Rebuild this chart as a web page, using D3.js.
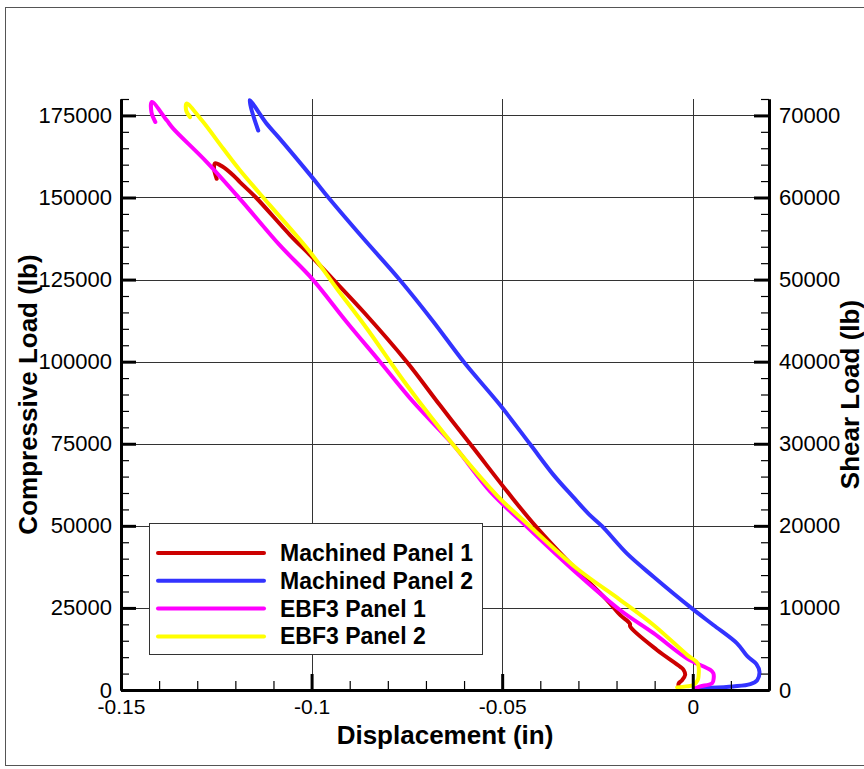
<!DOCTYPE html>
<html>
<head>
<meta charset="utf-8">
<script src="https://cdn.jsdelivr.net/npm/d3@7"></script>
<style>
body { margin: 0; background: #fff; }
svg { font-family: "Liberation Sans", Arial, Helvetica, sans-serif; }
</style>
</head>
<body>
<div id="chart"></div>
<script>
// data: [displacement (in), compressive load (lb)]
var machined1 = [[-0.0037,800],[-0.0037,2000],[-0.0028,3000],[-0.0020,4600],[-0.0024,6100],[-0.0033,7100],
  [-0.0094,12200],[-0.0164,19300],[-0.0165,20200],[-0.0190,22800],[-0.0225,27400],[-0.0322,38600],[-0.0413,50000],
  [-0.0479,59300],[-0.0575,73600],[-0.0663,86700],[-0.0750,99900],[-0.0864,115200],[-0.0943,125000],
  [-0.1000,132000],[-0.1056,138500],[-0.1146,150000],[-0.1188,154700],[-0.1205,156700],[-0.1235,159500],
  [-0.1253,160400],[-0.1256,158900],[-0.1249,155700]];
var machined2 = [[0.0007,600],[0.0046,700],[0.0106,1100],[0.0151,1800],[0.0169,3000],[0.0175,5500],[0.0167,7900],
  [0.0143,10300],[0.0116,14200],[0.0054,19800],[-0.0004,25000],[-0.0103,34500],[-0.0173,41600],[-0.0238,49900],
  [-0.0272,53500],[-0.0314,58800],[-0.0366,65600],[-0.0427,74900],[-0.0505,86700],[-0.0600,99800],
  [-0.0680,112100],[-0.0770,125100],[-0.0864,137500],[-0.0956,150000],[-0.0999,156200],[-0.1087,168400],
  [-0.1118,172500],[-0.1163,179600],[-0.1140,170400]];
var ebf1 = [[0.0007,600],[0.0020,1100],[0.0051,2100],[0.0055,3700],[0.0054,5100],[0.0046,6100],[-0.0015,9600],
  [-0.0103,17300],[-0.0190,24300],[-0.0313,36500],[-0.0435,49700],[-0.0531,60400],[-0.0628,74600],[-0.0733,87700],
  [-0.0820,99900],[-0.0908,112100],[-0.0999,125300],[-0.1083,135400],[-0.1188,149600],[-0.1275,160800],
  [-0.1363,171000],[-0.1380,173500],[-0.1419,179100],[-0.1420,175900],[-0.1410,173000]];
var ebf2 = [[-0.0041,800],[-0.0017,1100],[0.0002,1500],[0.0013,3000],[0.0015,4000],[0.0013,8100],[-0.0015,10700],
  [-0.0103,19800],[-0.0190,27400],[-0.0304,37000],[-0.0435,50700],[-0.0514,59300],[-0.0628,74600],[-0.0750,92800],
  [-0.0855,110100],[-0.0934,122300],[-0.1004,133400],[-0.1109,147600],[-0.1188,158300],[-0.1232,164900],
  [-0.1288,173500],[-0.1328,178600],[-0.1329,176500],[-0.1319,174500]];

var seriesNames = ["Machined Panel 1", "Machined Panel 2", "EBF3 Panel 1", "EBF3 Panel 2"];
var seriesColors = ["#cc0000", "#3333ff", "#ff00ff", "#ffff00"];
var seriesData = [machined1, machined2, ebf1, ebf2];

var xTicks = [-0.15, -0.1, -0.05, 0];
var leftTicks = [0, 25000, 50000, 75000, 100000, 125000, 150000, 175000];
var rightTicks = [0, 10000, 20000, 30000, 40000, 50000, 60000, 70000];

var W = 864, H = 769;
var plot = {left: 121, right: 769, top: 99, bottom: 690};

var svg = d3.select("#chart").append("svg")
  .attr("width", W)
  .attr("height", H);

// outer frame
svg.append("rect")
  .attr("x", 5.5).attr("y", 7.5)
  .attr("width", 900).attr("height", 758)
  .attr("fill", "none").attr("stroke", "#555").attr("stroke-width", 1);

var x = d3.scaleLinear().domain([-0.15, 0.02]).range([plot.left, plot.right]);
var yL = d3.scaleLinear().domain([0, 180000]).range([plot.bottom, plot.top]);
var yR = d3.scaleLinear().domain([0, 72000]).range([plot.bottom, plot.top]);

// grid
var grid = svg.append("g").attr("stroke", "#333").attr("stroke-width", 1);
grid.selectAll(".hg").data(leftTicks.filter(function(d){ return d > 0; })).enter()
  .append("line")
  .attr("x1", plot.left).attr("x2", plot.right)
  .attr("y1", function(d){ return Math.round(yL(d)) + 0.5; })
  .attr("y2", function(d){ return Math.round(yL(d)) + 0.5; });
grid.selectAll(".vg").data(xTicks.filter(function(d){ return d > -0.15; })).enter()
  .append("line")
  .attr("y1", plot.top).attr("y2", plot.bottom)
  .attr("x1", function(d){ return Math.round(x(d)) + 0.5; })
  .attr("x2", function(d){ return Math.round(x(d)) + 0.5; });

// curves
var line = d3.line()
  .curve(d3.curveCatmullRom.alpha(0.5))
  .x(function(d){ return x(d[0]); })
  .y(function(d){ return yL(d[1]); });

svg.append("g").selectAll("path")
  .data(seriesData)
  .enter()
  .append("path")
  .attr("d", line)
  .attr("fill", "none")
  .attr("stroke", function(d, i){ return seriesColors[i]; })
  .attr("stroke-width", 4)
  .attr("stroke-linejoin", "round")
  .attr("stroke-linecap", "round");

// axes: minor ticks first, then majors with labels
function styleAxis(g, w, fs) {
  g.select(".domain").attr("stroke", "#000").attr("stroke-width", 3);
  g.selectAll(".tick line").attr("stroke", "#000").attr("stroke-width", w);
  g.selectAll("text").attr("fill", "#000").style("font-size", fs || "22px");
}

svg.append("g")
  .attr("transform", "translate(" + plot.left + ",0)")
  .call(d3.axisLeft(yL).tickValues(yL.ticks(36)).tickSize(-8).tickSizeOuter(0).tickFormat(""))
  .call(styleAxis, 1.2);
svg.append("g")
  .attr("transform", "translate(" + plot.left + ",0)")
  .call(d3.axisLeft(yL).tickValues(leftTicks).tickSize(-15).tickSizeOuter(0).tickPadding(9)
    .tickFormat(function(d){ return String(d); }))
  .call(styleAxis, 3);

svg.append("g")
  .attr("transform", "translate(" + plot.right + ",0)")
  .call(d3.axisRight(yR).tickValues(yR.ticks(36)).tickSize(-8).tickSizeOuter(0).tickFormat(""))
  .call(styleAxis, 1.2);
svg.append("g")
  .attr("transform", "translate(" + plot.right + ",0)")
  .call(d3.axisRight(yR).tickValues(rightTicks).tickSize(-15).tickSizeOuter(0).tickPadding(10)
    .tickFormat(function(d){ return String(d); }))
  .call(styleAxis, 3);

svg.append("g")
  .attr("transform", "translate(0," + plot.bottom + ")")
  .call(d3.axisBottom(x).tickValues(x.ticks(17)).tickSize(-9).tickSizeOuter(0).tickFormat(""))
  .call(styleAxis, 1.2);
svg.append("g")
  .attr("transform", "translate(0," + plot.bottom + ")")
  .call(d3.axisBottom(x).tickValues(xTicks).tickSize(-16).tickSizeOuter(0).tickPadding(9)
    .tickFormat(function(d){ return String(d); }))
  .call(styleAxis, 3, "21px");

// axis titles
svg.append("text")
  .text("Displacement (in)")
  .attr("x", 445).attr("y", 744)
  .attr("text-anchor", "middle")
  .style("font-size", "26px").style("font-weight", "bold");
svg.append("text")
  .text("Compressive Load (lb)")
  .attr("transform", "translate(37," + ((plot.top + plot.bottom) / 2) + ") rotate(-90)")
  .attr("text-anchor", "middle")
  .style("font-size", "26px").style("font-weight", "bold");
svg.append("text")
  .text("Shear Load (lb)")
  .attr("transform", "translate(859," + ((plot.top + plot.bottom) / 2) + ") rotate(-90)")
  .attr("text-anchor", "middle")
  .style("font-size", "26px").style("font-weight", "bold");

// legend
var legend = svg.append("g").attr("transform", "translate(149,523)");
legend.append("rect")
  .attr("x", 0.5).attr("y", 0.5)
  .attr("width", 333).attr("height", 131)
  .attr("fill", "#fff").attr("stroke", "#333").attr("stroke-width", 1);
var items = legend.selectAll(".item")
  .data(seriesNames)
  .enter()
  .append("g")
  .attr("transform", function(d, i){ return "translate(0," + (30 + i * 27.8) + ")"; });
items.append("line")
  .attr("x1", 9).attr("x2", 115)
  .attr("stroke", function(d, i){ return seriesColors[i]; })
  .attr("stroke-width", 4)
  .attr("stroke-linecap", "round");
items.append("text")
  .text(function(d){ return d; })
  .attr("x", 131).attr("y", 8)
  .style("font-size", "23px").style("font-weight", "bold");
</script>
</body>
</html>
